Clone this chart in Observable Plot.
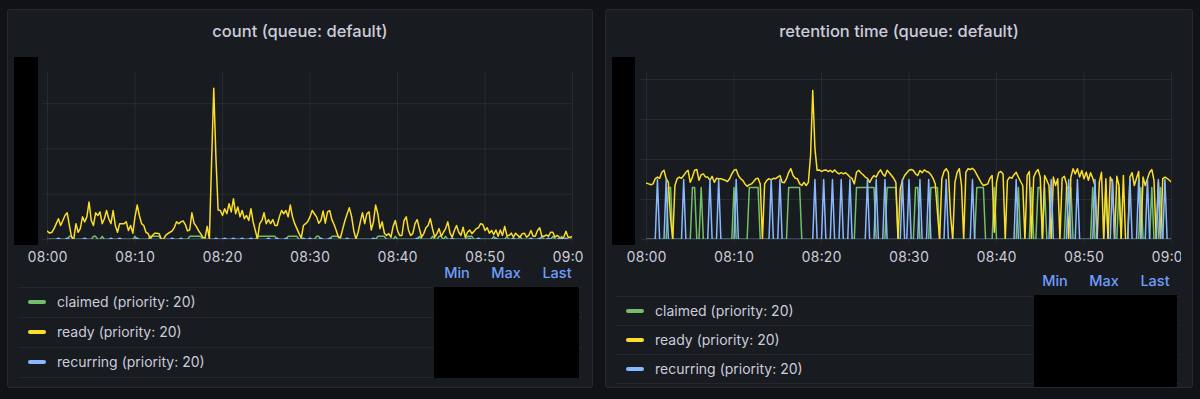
<!DOCTYPE html>
<html><head><meta charset="utf-8">
<script src="https://cdn.jsdelivr.net/npm/d3@7"></script>
<script src="https://cdn.jsdelivr.net/npm/@observablehq/plot@0.6"></script>
<style>
body{margin:0;background:#111217;width:1200px;height:399px;overflow:hidden;font-family:Inter,"Noto Sans",sans-serif;position:relative;}
.panel{position:absolute;top:9px;height:379px;background:#181b1f;border:1px solid #27292e;border-radius:3px;box-sizing:border-box;}
.title{position:absolute;top:21px;transform:translateX(-50%);color:#ccccdc;font-size:16.5px;font-weight:500;white-space:nowrap;line-height:20px;}
.chart{position:absolute;top:57px;height:215px;overflow:hidden;}
.chart svg{overflow:hidden;display:block;}
.redact{position:absolute;background:#000;}
.hdr{position:absolute;transform:translateX(-50%);color:#6e9fff;font-size:14.5px;font-weight:500;line-height:18px;}
.sep{position:absolute;height:1px;background:#24262b;}
.item{position:absolute;color:#ccccdc;font-size:14px;line-height:18px;white-space:nowrap;}
.sw{position:absolute;width:18px;height:4px;border-radius:2px;}
</style></head>
<body>
<div class="panel" style="left:7px;width:586px"></div>
<div class="panel" style="left:605px;width:588px"></div>
<div class="title" style="left:300px">count (queue: default)</div>
<div class="title" style="left:899px">retention time (queue: default)</div>
<div class="chart" id="c1" style="left:15px;width:568px"></div>
<div class="chart" id="c2" style="left:614px;width:567px"></div>
<div class="redact" style="left:14px;top:57px;width:24px;height:188px"></div>
<div class="redact" style="left:612px;top:57px;width:23px;height:188px"></div>
<div id="leg1"></div>
<div id="leg2"></div>
<script>
// ---- time axis ----
const xTickLabels = ["08:00","08:10","08:20","08:30","08:40","08:50","09:00"];
const day = "2024-01-01";
const stepSeconds = 15;

// ---- series names / colours ----
const seriesNames = ["claimed (priority: 20)", "ready (priority: 20)", "recurring (priority: 20)"];
const seriesColors = ["#73bf69", "#fade2a", "#8ab8ff"];
const legendHeaders = ["Min", "Max", "Last"];

// ---- count panel ----
const countClaimed = [
0,0,0,0,0,0,0,0,0,0,0.7,0.7,0,0,0,0,0,0,0,0,
0,0.7,0.7,0,0,0.7,0,0,0,0,0,0,0,0,0,0,0,0,0,0,
0.7,0,0,0,0,0,0,0.7,0.7,0.7,0.7,0.7,0,0,0,0,0,0,0,0,
0,0,0,0,0,0.7,0.7,0.7,0.7,0.7,0.7,0,0,0,0,0,0,0,0,0,
0,0,0,0,0,0,0,0,0,0,0,0,0,0,0,0,0.7,0.7,0.7,0.7,
0.7,0.7,0.7,0.7,0.7,0,0,0,0,0,0.7,0.7,0.7,0.7,0.7,0,0,0,0,0,
0,0,0,0.7,0.7,0,0,0,0,0,0.7,0.7,0.7,0.7,0,0,0,0,0,0,
0,0,0,0,0,0,0,0,0,0,0,0.7,0.7,0.7,0.7,0,0,0,0,0.7,
0,0,0,0,0,0,0,0,0,0,0.7,0,0,0,0,0,0.7,0,0,0.7,
0.7,0,0.7,0,0,0,0,0,0,0,0,0,0.7,0.7,0.7,0,0,0,0,0,
0,0,0,0,0.7,0,0,0,0,0,0.7,0,0,0,0,0,0.7,0,0,0,
0,0,0,0,0,0,0.7,0,0,0,0,0.7,0,0,0,0.7,0,0,0,0,0];
const countReady = [
1.8,1.4,1.6,2.4,3.5,4.6,3.1,4.2,5.3,5.9,3.1,0.5,0,3.5,1.6,2.4,5.0,3.9,5.0,8.3,
4.2,3.1,5.9,5.3,6.1,3.5,4.6,6.4,4.6,3.5,6.4,3.1,1.6,3.5,3.5,3.5,3.9,2.0,3.1,1.4,
5.0,7.6,5.3,3.5,3.1,1.6,1.3,0.1,0.9,1.4,1.4,1.3,0.1,0,0.9,1.3,1.6,1.9,2.7,3.9,
3.5,3.9,4.1,3.3,1.9,2.1,5.9,3.6,2.9,2.0,1.3,0.5,0.3,2.9,0.1,17,33.4,18,6.5,6.4,
5.3,6.8,5.7,7.9,6.1,9.0,5.7,7.2,5.0,6.4,4.6,5.3,4.2,6.8,3.9,2.0,0.1,3.5,4.2,5.9,
3.5,4.4,3.5,4.4,3.1,3.1,5.0,6.4,5.7,6.4,5.0,7.6,5.0,3.5,2.4,1.3,0.3,3.1,3.5,4.0,
5.0,6.4,5.7,5.0,3.6,4.2,6.3,3.6,6.1,6.4,4.4,3.3,2.0,0.5,0.5,2.4,4.2,5.7,7.0,5.1,
2.0,0.1,1.6,3.9,5.9,3.5,5.7,6.1,2.1,3.9,7.6,5.7,2.4,3.9,1.4,0.9,1.3,0.5,2.9,4.2,
2.0,0.9,0.9,4.2,5.0,2.1,0.9,1.3,3.5,4.4,2.4,0.5,1.3,2.6,3.1,4.6,2.4,0.5,1.3,2.4,
0.7,1.6,2.4,3.9,1.4,0.5,2.0,3.1,1.6,0.9,2.7,0.5,1.6,2.1,1.3,1.8,2.4,2.6,3.5,3.3,
2.0,2.6,1.4,2.0,1.1,2.1,0.7,2.1,0.9,2.9,0.9,0.9,1.4,0.5,1.4,0.9,0.5,1.3,1.4,0.5,
0.9,2.0,0.7,0.7,2.0,2.6,0.7,0.7,1.0,0.7,1.6,1.6,0.5,0.9,0.5,0.1,0.5,1.8,0.5,0.5,0.7];
const countRecurring = [
0,0,0,0,0,0.3,0,0,0,0.3,0,0,0,0,0,0,0,0.3,0,0,
0,0,0,0,0,0,0,0,0,0.3,0,0,0,0.3,0,0,0,0,0,0,
0,0.3,0,0,0,0,0,0,0,0,0,0,0,0,0,0,0,0.3,0,0,
0,0.3,0,0,0,0,0,0,0,0,0,0,0,0,0,0,0,0.3,0,0,
0,0.3,0,0,0,0.3,0,0,0,0.3,0,0,0,0.3,0,0,0,0,0,0,
0,0.3,0,0,0,0.3,0,0,0,0.3,0,0,0,0,0,0,0,0.3,0,0,
0.3,0,0,0,0,0.3,0,0,0,0.3,0,0,0,0,0,0,0,0.3,0,0,
0,0,0,0,0,0,0,0,0,0.3,0,0,0,0,0,0,0,0,0,0,
0,0,0,0,0,0,0,0,0,0.3,0,0,0,0,0,0,0,0,0,0,
0,0,0,0,0,0.3,0,0,0,0,0,0,0,0.3,0,0,0,0.3,0,0,
0,0,0,0,0,0.3,0,0,0,0,0,0,0,0.3,0,0,0,0,0,0,
0,0.3,0,0,0,0.3,0,0,0,0.3,0,0,0,0,0.3,0,0,0.3,0,0,0];
const countYTop = 36.9;
const countYGrid = [0, 10, 20, 30];

// ---- retention time panel ----
const retentionClaimed = [
0,0,0,0,0,0,0,0,0,0,13,13,0,0,0,0,0,0,0,0,
0,13,13,0,0,13,0,0,0,0,0,0,0,0,0,0,0,0,0,0,
13,0,0,0,0,0,0,13,13,13,13,13,0,0,0,0,0,0,0,0,
0,0,0,0,0,13,13,13,13,13,13,0,0,0,0,0,0,0,0,0,
0,0,0,0,0,0,0,0,0,0,0,0,0,0,0,0,13,13,13,13,
13,13,13,13,13,0,0,0,0,0,13,13,13,13,13,0,0,0,0,0,
0,0,0,13,13,0,0,0,0,0,13,13,13,13,0,0,0,0,0,0,
0,0,0,0,0,0,0,0,0,0,0,13,13,13,13,0,0,0,0,13,
0,0,0,0,0,0,0,0,0,0,13,0,0,0,0,0,13,0,0,13,
13,0,13,0,0,0,0,0,0,0,0,0,13,13,13,0,0,0,0,0,
0,0,0,0,13,0,0,0,0,0,13,0,0,0,0,0,13,0,0,0,
0,0,0,0,0,0,13,0,0,0,0,13,0,0,0,13,0,0,0,0,0];
const retentionReady = [
14.1,13.9,13.7,13.9,15.2,15.6,15.3,16.8,17.3,15.2,14.3,5.2,0,13.5,15.2,15.6,15.3,16.0,16.8,17.3,
14.3,15.6,17.3,17.5,14.8,16.2,16.4,15.6,15.6,14.8,15.8,14.3,15.3,15.2,15.2,15.0,14.8,14.5,15.2,16.4,
17.3,17.5,16.0,15.2,14.8,13.9,13.3,13.7,13.9,14.5,15.2,15.3,13.9,0,13.9,14.8,15.2,14.9,15.3,15.2,
15.6,16.0,14.3,14.2,15.2,16.8,17.7,16.0,15.3,15.2,13.9,13.5,14.3,13.5,14.3,21,37.25,22.7,17.3,17.4,
17.0,17.3,17.4,17.0,17.3,16.8,17.4,16.8,16.4,16.7,16.4,16.7,16.2,15.6,15.2,13.9,16.8,17.3,16.7,16.2,
15.6,15.3,14.3,15.3,16.0,15.6,16.7,17.4,16.4,15.8,17.3,16.7,16.0,15.3,14.3,0,12.7,14.8,16.0,16.7,
17.3,17.5,17.25,16.4,16,17.25,16.7,17.4,17,16.8,16.2,15.3,13.9,6.8,0,15.2,17,17.7,16.8,6,
0,14.3,16.8,17.7,13.5,0,16.8,17.7,17.5,17.8,17.25,16.2,15.2,14.2,13.5,13.7,13.9,15.3,16,1.8,
14.3,16.7,17,16.4,0,14.8,15.6,15.3,16.2,16.8,15.6,14.5,13.5,0,16,17,0,15.6,16.8,17.5,
15.6,0,16,14.8,13.5,0,15.6,13.5,15.2,0,15.3,15.8,13.9,0,15.6,17.7,16.4,17.7,15.6,17.25,
15.2,16.8,14.8,16.7,15.3,13.5,0,14.3,16.8,0,15.2,0,15.6,14.3,0,15.8,13.5,0,16,0,
0,15.6,16.7,13.5,15.3,17,0,15.6,13.5,15.2,16.8,17.5,14.8,0,14.3,0,15.2,15.6,15.3,14.8,14.3];
const retentionRecurring = [
0,0,0,0,0,15,0,0,0,15,0,0,0,0,0,0,0,15,0,0,
0,0,0,0,0,0,0,0,0,15,0,0,0,15,0,0,0,0,0,0,
0,15,0,0,0,0,0,0,0,0,0,0,0,0,0,0,0,15,0,0,
0,15,0,0,0,0,0,0,0,0,0,0,0,0,0,0,0,15,0,0,
0,15,0,0,0,15,0,0,0,15,0,0,0,15,0,0,0,0,0,0,
0,15,0,0,0,15,0,0,0,15,0,0,0,0,0,0,0,15,0,0,
15,0,0,0,0,15,0,0,0,15,0,0,0,0,0,0,0,15,0,0,
0,0,0,0,0,0,0,0,0,15,0,0,0,0,0,0,0,0,0,0,
0,0,0,0,0,0,0,0,0,15,0,0,0,0,0,0,0,0,0,0,
0,0,0,0,0,15,0,0,0,0,0,0,0,15,0,0,0,15,0,0,
0,0,0,0,0,15,0,0,0,0,0,0,0,15,0,0,0,0,0,0,
0,15,0,0,0,15,0,0,0,15,0,0,0,0,15,0,0,15,0,0,0];
const retentionYTop = 41.75;
const retentionYGrid = [0, 10, 20, 30, 40];

// ---- build ----
const xTicks = xTickLabels.map(s => new Date(`${day}T${s}:00Z`));
const times = countReady.map((_, i) => new Date(xTicks[0].getTime() + i * stepSeconds * 1000));

function panelChart(seriesValues, yTop, yGrid, width, marginRight) {
  const grid = {stroke: "#ccccdc", strokeOpacity: 0.09};
  return Plot.plot({
    width, height: 215,
    marginLeft: 32, marginRight, marginTop: 15, marginBottom: 33,
    style: {background: "transparent", color: "#ccccdc", fontFamily: "Inter, sans-serif", fontSize: "14px", overflow: "hidden"},
    x: {type: "utc", domain: [xTicks[0], xTicks[xTicks.length - 1]]},
    y: {domain: [0, yTop], axis: null},
    marks: [
      Plot.ruleY(yGrid, {...grid, insetLeft: -5}),
      Plot.ruleX(xTicks, {...grid, insetBottom: -4}),
      ...seriesValues.map((vals, j) => Plot.lineY(vals, {
        x: (d, i) => times[i], y: d => d,
        stroke: seriesColors[j], strokeWidth: 1.5, clip: true
      })),
      Plot.axisX({ticks: xTicks, tickFormat: "%H:%M", tickSize: 0, tickPadding: 13, fontSize: 14, color: "#ccccdc"})
    ]
  });
}

document.getElementById("c1").append(panelChart([countClaimed, countReady, countRecurring], countYTop, countYGrid, 568, 11));
document.getElementById("c2").append(panelChart([retentionClaimed, retentionReady, retentionRecurring], retentionYTop, retentionYGrid, 567, 10));

function legend(el, o) {
  let html = "";
  legendHeaders.forEach((h, i) => {
    html += `<div class="hdr" style="left:${o.hdrX[i]}px;top:${o.hdrY - 9}px">${h}</div>`;
  });
  o.lines.forEach(y => {
    html += `<div class="sep" style="left:${o.x0}px;width:${o.x1 - o.x0}px;top:${y}px"></div>`;
  });
  seriesNames.forEach((n, i) => {
    const cy = (o.lines[i] + o.lines[i + 1]) / 2;
    html += `<div class="sw" style="left:${o.x0 + 10}px;top:${cy - 2}px;background:${seriesColors[i]}"></div>`;
    html += `<div class="item" style="left:${o.x0 + 39}px;top:${cy - 9}px">${n}</div>`;
  });
  html += `<div class="redact" style="left:${o.box[0]}px;top:${o.box[1]}px;width:${o.box[2]}px;height:${o.box[3]}px"></div>`;
  el.innerHTML = html;
}
legend(document.getElementById("leg1"), {hdrX: [457, 506, 557], hdrY: 273, lines: [287, 317, 347, 377], x0: 18, x1: 582, box: [434, 287, 145, 91]});
legend(document.getElementById("leg2"), {hdrX: [1055, 1104, 1155], hdrY: 281, lines: [296, 325, 354, 383], x0: 616, x1: 1180, box: [1034, 295, 143, 92]});
</script>
</body></html>
